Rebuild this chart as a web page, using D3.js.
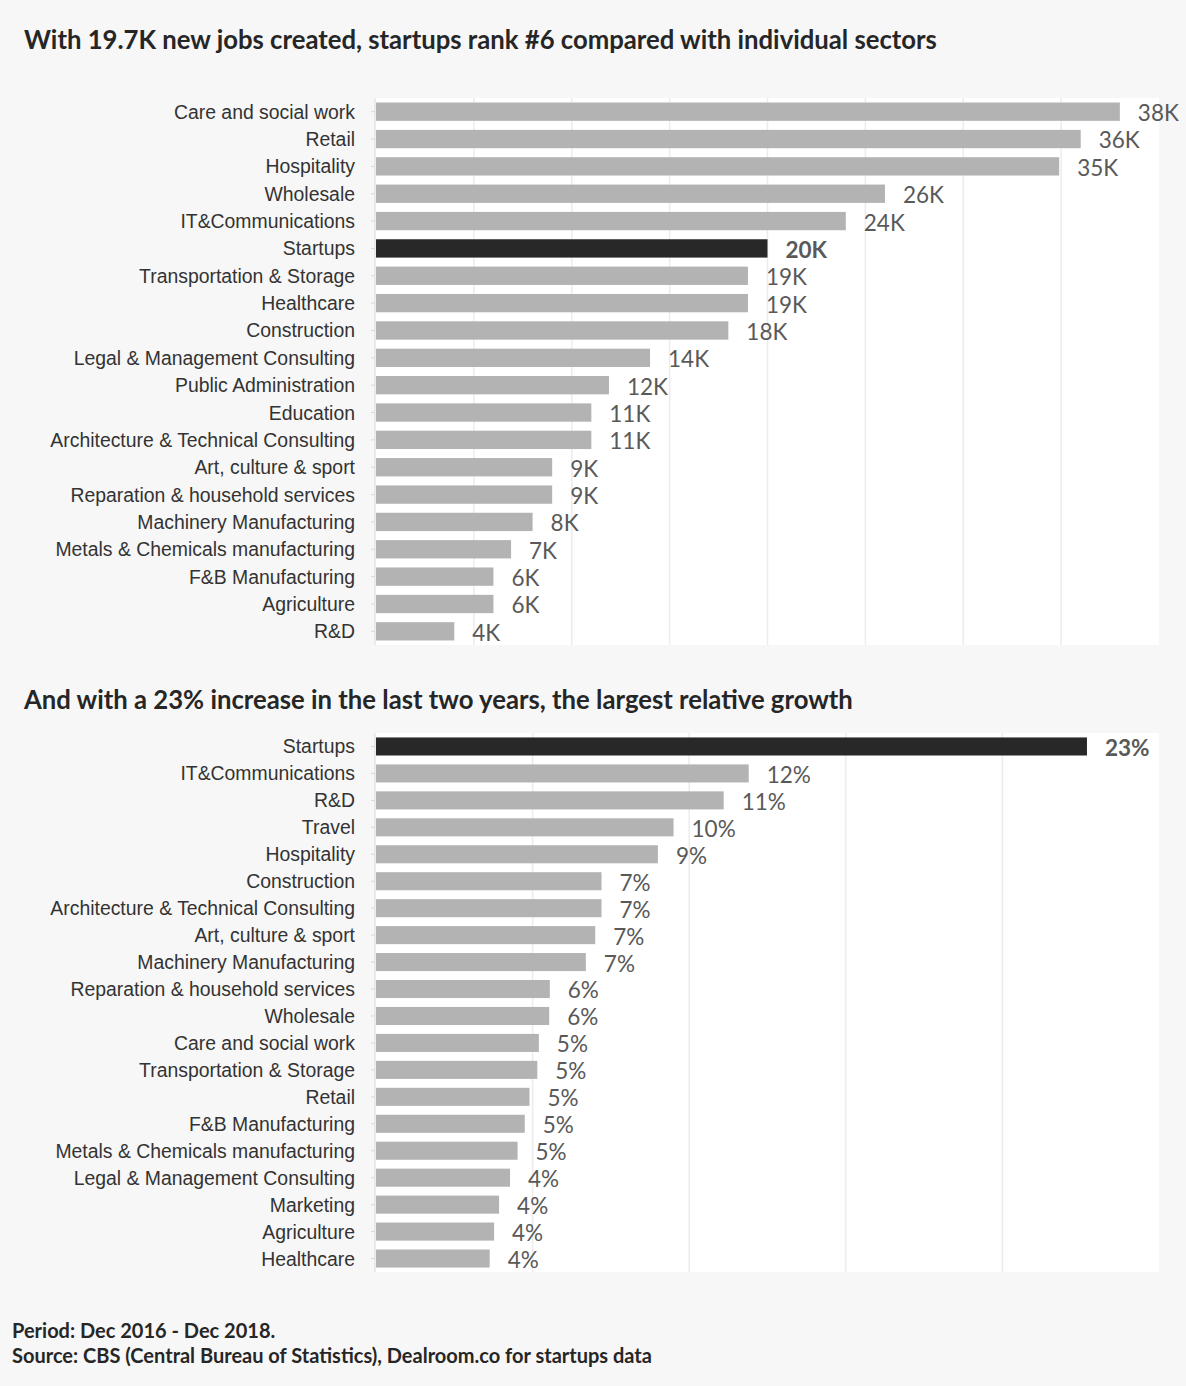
<!DOCTYPE html>
<html>
<head>
<meta charset="utf-8">
<script src="https://cdnjs.cloudflare.com/ajax/libs/d3/7.8.5/d3.min.js"></script>
<style>
  body { margin: 0; background: #f7f7f7; }
  svg { display: block; font-family: Lato, "Open Sans", sans-serif; }
  .title { font-weight: 700; fill: #262626; font-size: 25.7px; }
  .note { font-weight: 700; fill: #262626; font-size: 20px; }
  .axis text { fill: #333; font-size: 19.4px; }
  .axis line, .axis path { stroke: #d9d9d9; }
  .grid line { stroke: #ececec; stroke-width: 1.5; }
  .val { fill: #595959; font-size: 22.5px; }
  .val.hi { font-weight: 700; }
</style>
</head>
<body>
<script>
// jobs created per sector, in thousands
var jobsSectors = ["Care and social work", "Retail", "Hospitality", "Wholesale", "IT&Communications",
  "Startups", "Transportation & Storage", "Healthcare", "Construction", "Legal & Management Consulting",
  "Public Administration", "Education", "Architecture & Technical Consulting", "Art, culture & sport",
  "Reparation & household services", "Machinery Manufacturing", "Metals & Chemicals manufacturing",
  "F&B Manufacturing", "Agriculture", "R&D"];
var jobsValues = [38, 36, 34.9, 26, 24, 20, 19, 19, 18, 14, 11.9, 11, 11, 9, 9, 8, 6.9, 6, 6, 4];
var jobsTicks = [0, 5, 10, 15, 20, 25, 30, 35];

// relative growth, percent
var growthSectors = ["Startups", "IT&Communications", "R&D", "Travel", "Hospitality", "Construction",
  "Architecture & Technical Consulting", "Art, culture & sport", "Machinery Manufacturing",
  "Reparation & household services", "Wholesale", "Care and social work", "Transportation & Storage",
  "Retail", "F&B Manufacturing", "Metals & Chemicals manufacturing", "Legal & Management Consulting",
  "Marketing", "Agriculture", "Healthcare"];
var growthValues = [22.7, 11.9, 11.1, 9.5, 9.0, 7.2, 7.2, 7.0, 6.7, 5.55, 5.53, 5.2, 5.15, 4.9, 4.75, 4.52, 4.28, 3.93, 3.77, 3.63];
var growthTicks = [0, 5, 10, 15, 20];

var W = 1186, H = 1386;
var left = 376, right = 1159;

var svg = d3.select("body").append("svg")
  .attr("width", W)
  .attr("height", H);

svg.append("rect").attr("width", W).attr("height", H).attr("fill", "#f7f7f7");

function drawChart(opts) {
  var g = svg.append("g");

  var x = d3.scaleLinear().domain([0, opts.max]).range([left, right]);
  var y = d3.scaleBand().domain(opts.cats).range([opts.top, opts.bottom]).paddingInner(0.33).paddingOuter(0.165);

  g.append("text")
    .attr("class", "title")
    .attr("x", 24)
    .attr("y", opts.titleY)
    .text(opts.title);

  g.append("rect")
    .attr("x", left - 1)
    .attr("y", opts.top)
    .attr("width", right - left + 1)
    .attr("height", opts.bottom - opts.top)
    .attr("fill", "#fff");

  g.append("g")
    .attr("class", "grid")
    .selectAll("line")
    .data(opts.ticks.slice(1))
    .join("line")
    .attr("x1", d => x(d)).attr("x2", d => x(d))
    .attr("y1", opts.top).attr("y2", opts.bottom);

  g.selectAll("rect.bar")
    .data(opts.vals)
    .join("rect")
    .attr("class", "bar")
    .attr("x", x(0))
    .attr("y", (d, i) => y(opts.cats[i]))
    .attr("width", d => x(d) - x(0))
    .attr("height", y.bandwidth())
    .attr("fill", (d, i) => opts.cats[i] == "Startups" ? "#282828" : "#b3b3b3");

  g.selectAll("text.val")
    .data(opts.vals)
    .join("text")
    .attr("class", (d, i) => opts.cats[i] == "Startups" ? "val hi" : "val")
    .attr("x", d => x(d) + 18)
    .attr("y", (d, i) => y(opts.cats[i]) + y.bandwidth() / 2)
    .attr("dy", "0.42em")
    .text(d => Math.round(d) + opts.unit);

  var ax = g.append("g")
    .attr("class", "axis")
    .attr("transform", "translate(" + (left - 1) + ",0)")
    .call(d3.axisLeft(y).tickSize(4).tickSizeOuter(0).tickPadding(16));
  ax.selectAll("text").attr("dy", "0.36em");
  ax.select(".domain").attr("d", "M0," + opts.top + "V" + opts.bottom);
}

drawChart({
  title: "With 19.7K new jobs created, startups rank #6 compared with individual sectors",
  titleY: 49,
  cats: jobsSectors,
  vals: jobsValues,
  ticks: jobsTicks,
  max: 40,
  unit: "K",
  top: 98,
  bottom: 645
});

drawChart({
  title: "And with a 23% increase in the last two years, the largest relative growth",
  titleY: 709,
  cats: growthSectors,
  vals: growthValues,
  ticks: growthTicks,
  max: 25,
  unit: "%",
  top: 733,
  bottom: 1272
});

svg.append("text").attr("class", "note").attr("x", 12).attr("y", 1338).text("Period: Dec 2016 - Dec 2018.");
svg.append("text").attr("class", "note").attr("x", 12).attr("y", 1363).text("Source: CBS (Central Bureau of Statistics), Dealroom.co for startups data");
</script>
</body>
</html>
